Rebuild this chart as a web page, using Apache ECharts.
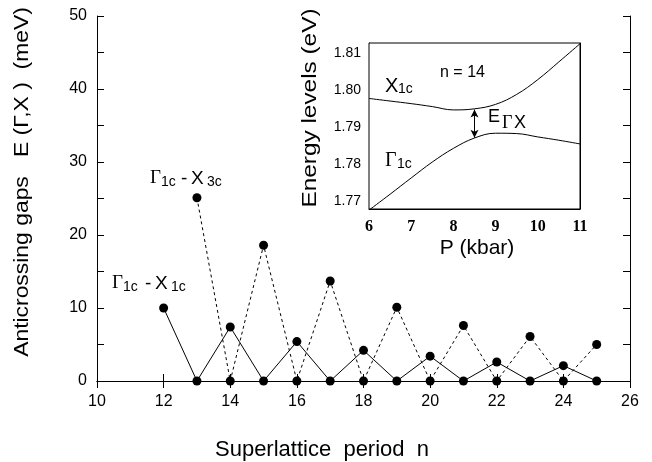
<!DOCTYPE html>
<html>
<head>
<meta charset="utf-8">
<script src="https://cdn.jsdelivr.net/npm/echarts@6/dist/echarts.min.js"></script>
<style>
  html, body { margin: 0; padding: 0; background: #fff; }
  #chart { width: 652px; height: 462px; }
</style>
</head>
<body>
<div id="chart"></div>
<script>
// main plot: anticrossing gaps vs superlattice period
const periods = [12, 13, 14, 15, 16, 17, 18, 19, 20, 21, 22, 23, 24, 25];
const gapX1c = [10.0, 0, 7.4, 0, 5.4, 0, 4.2, 0, 3.4, 0, 2.6, 0, 2.1, 0];
const gapX3c = [null, 25.1, 0, 18.6, 0, 13.7, 0, 10.1, 0, 7.6, 0, 6.1, 0, 5.0];

// inset: energy levels for n = 14
const pressure = [6, 6.5, 7, 7.5, 8, 8.5, 9, 9.5, 10, 10.5, 11];
const levelX1c = [1.7977, 1.7970, 1.7963, 1.7955, 1.7946, 1.7949, 1.7961, 1.7988, 1.8028, 1.8076, 1.8125];
const levelG1c = [1.7675, 1.7718, 1.7762, 1.7805, 1.7842, 1.7870, 1.7883, 1.7882, 1.7873, 1.7864, 1.7854];
const insetYTicks = [1.77, 1.78, 1.79, 1.80, 1.81];

const sans = 'Liberation Sans';
const serif = 'Liberation Serif';

const pairs = (xs, ys) => xs.map((x, i) => [x, ys[i]]).filter(p => p[1] !== null);

const chart = echarts.init(document.getElementById('chart'));

const mainTick = { show: true, inside: true, length: 7, lineStyle: { color: '#000', width: 1 } };
const insetTick = { show: true, inside: true, length: 6, lineStyle: { color: '#000', width: 1 } };
const line = { show: true, lineStyle: { color: '#000', width: 1 } };

// subscripted label helper (graphic texts)
function subLabel(x, y, parts, size) {
  size = size || 19;
  return parts.map(p => ({
    type: 'text',
    left: x + p.dx,
    top: y + (p.sub ? (p.shift || 6) : 0),
    z: 10,
    style: {
      text: p.t,
      font: (p.sub ? (p.size || 14) : size) + 'px ' + (p.serif ? serif : sans),
      fill: '#000'
    }
  }));
}

// axis titles; the rotated ones are a bit stretched in the original
function title(x, y, text, size, rotate, stretch) {
  return {
    type: 'text', x: x, y: y, rotation: rotate ? Math.PI / 2 : 0,
    scaleX: stretch || 1, z: 10,
    style: { text: text, font: size + 'px ' + sans, fill: '#000', textAlign: 'center', textVerticalAlign: 'middle' }
  };
}

const option = {
  animation: false,
  backgroundColor: '#fff',
  grid: [
    { left: 97, right: 22, top: 16, bottom: 81, show: false },
    { left: 369, top: 43, width: 211, height: 166, show: true, borderColor: '#000', borderWidth: 1, backgroundColor: '#fff', z: 5 }
  ],
  xAxis: [
    {
      gridIndex: 0, type: 'value', min: 10, max: 26, interval: 2,
      axisLine: line, axisTick: mainTick, splitLine: { show: false },
      axisLabel: { color: '#000', fontFamily: sans, fontSize: 16, margin: 13 }
    },
    {
      gridIndex: 0, type: 'value', position: 'top', min: 10, max: 26, interval: 2,
      axisLine: line, axisTick: mainTick, axisLabel: { show: false }, splitLine: { show: false }
    },
    {
      gridIndex: 1, type: 'value', min: 6, max: 11, interval: 1,
      axisLine: line, axisTick: insetTick, splitLine: { show: false },
      axisLabel: { color: '#000', fontFamily: serif, fontSize: 16, fontWeight: 'bold', margin: 10 }
    }
  ],
  yAxis: [
    {
      gridIndex: 0, type: 'value', min: 0, max: 50, interval: 5,
      axisLine: line, axisTick: mainTick, splitLine: { show: false },
      axisLabel: {
        color: '#000', fontFamily: sans, fontSize: 16, margin: 10,
        formatter: v => (v % 10 === 0 ? String(v) : '')
      }
    },
    {
      gridIndex: 0, type: 'value', position: 'right', min: 0, max: 50, interval: 5,
      axisLine: line, axisTick: mainTick, axisLabel: { show: false }, splitLine: { show: false }
    },
    {
      gridIndex: 1, type: 'value', min: 1.7678, max: 1.8127,
      axisLine: line,
      axisTick: Object.assign({ customValues: insetYTicks }, insetTick),
      splitLine: { show: false },
      axisLabel: {
        color: '#000', fontFamily: sans, fontSize: 14, margin: 8,
        customValues: insetYTicks, formatter: v => v.toFixed(2)
      }
    },
    {
      gridIndex: 1, type: 'value', position: 'right', min: 1.7678, max: 1.8127,
      axisLine: line,
      axisTick: Object.assign({ customValues: insetYTicks }, insetTick),
      axisLabel: { show: false, customValues: insetYTicks }, splitLine: { show: false }
    }
  ],
  series: [
    {
      name: 'G1c-X3c', type: 'line', xAxisIndex: 0, yAxisIndex: 0,
      data: pairs(periods, gapX3c),
      lineStyle: { color: '#000', width: 1, type: [3, 3] },
      symbol: 'circle', symbolSize: 9, itemStyle: { color: '#000' }, z: 2
    },
    {
      name: 'G1c-X1c', type: 'line', xAxisIndex: 0, yAxisIndex: 0,
      data: pairs(periods, gapX1c),
      lineStyle: { color: '#000', width: 1 },
      symbol: 'circle', symbolSize: 9, itemStyle: { color: '#000' }, z: 3
    },
    {
      name: 'X1c', type: 'line', xAxisIndex: 2, yAxisIndex: 2,
      data: pairs(pressure, levelX1c), smooth: 0.4, showSymbol: false,
      lineStyle: { color: '#000', width: 1 }, z: 6,
      markLine: {
        silent: true, symbol: ['arrow', 'arrow'], symbolSize: [6, 8],
        label: { show: false },
        lineStyle: { color: '#000', width: 1, type: 'solid' },
        data: [[{ coord: [8.5, 1.7947] }, { coord: [8.5, 1.7871] }]]
      }
    },
    {
      name: 'G1c', type: 'line', xAxisIndex: 2, yAxisIndex: 2,
      data: pairs(pressure, levelG1c), smooth: 0.4, showSymbol: false,
      lineStyle: { color: '#000', width: 1 }, z: 6
    }
  ],
  graphic: [].concat(
    [
      title(22, 182, 'Anticrossing gaps   E (\u0393,X )  (meV)', 21, true, 1.09),
      title(322, 450, 'Superlattice  period  n', 22, false),
      title(310, 108, 'Energy levels (eV)', 21, true, 1.16),
      title(477, 248, 'P (kbar)', 21, false),
      { type: 'text', left: 440, top: 65, z: 10, style: { text: 'n = 14', font: '16px ' + sans, fill: '#000' } }
    ],
    subLabel(150, 169, [
      { t: '\u0393', dx: 0, serif: true },
      { t: '1c', dx: 11, sub: true },
      { t: '-', dx: 31 },
      { t: 'X', dx: 41 },
      { t: '3c', dx: 57, sub: true }
    ]),
    subLabel(112, 274, [
      { t: '\u0393', dx: 0, serif: true },
      { t: '1c', dx: 11, sub: true },
      { t: '-', dx: 33 },
      { t: 'X', dx: 43 },
      { t: '1c', dx: 59, sub: true }
    ]),
    subLabel(385, 76, [
      { t: 'X', dx: 0 },
      { t: '1c', dx: 13, sub: true }
    ], 20),
    subLabel(385, 151, [
      { t: '\u0393', dx: 0, serif: true },
      { t: '1c', dx: 12, sub: true }
    ], 20),
    subLabel(488, 108, [
      { t: 'E', dx: 0 },
      { t: '\u0393', dx: 14, sub: true, serif: true, size: 18, shift: 6 },
      { t: 'X', dx: 26, sub: true, size: 18, shift: 6 }
    ], 18)
  )
};

chart.setOption(option);
</script>
</body>
</html>
